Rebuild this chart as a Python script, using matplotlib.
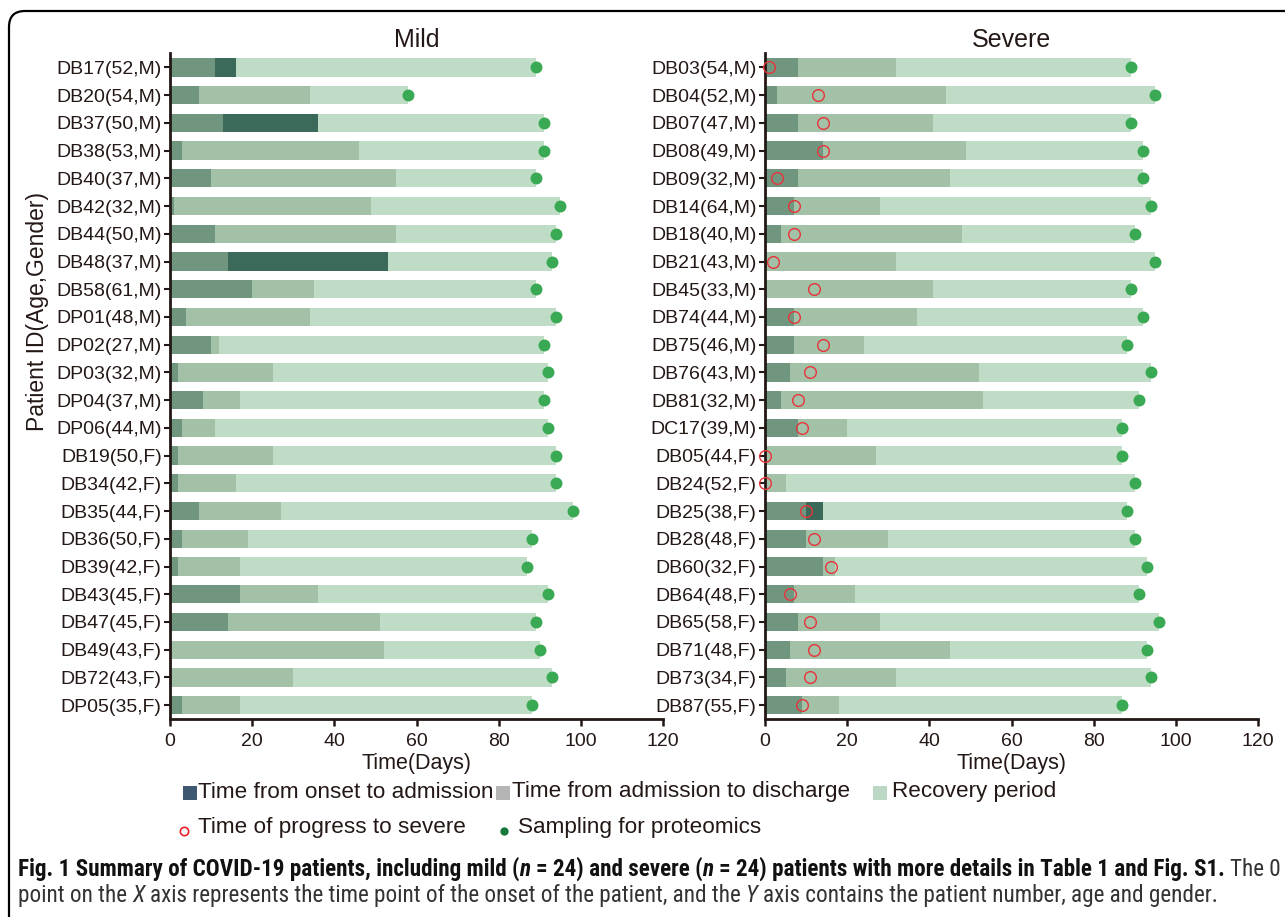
import matplotlib
matplotlib.use("Agg")
import matplotlib.pyplot as plt
from matplotlib.patches import FancyBboxPatch
from matplotlib import font_manager
from matplotlib.font_manager import FontProperties

W, H = 1285, 917

# ---------------- data ----------------
mild_ids = ["DB17(52,M)", "DB20(54,M)", "DB37(50,M)", "DB38(53,M)", "DB40(37,M)", "DB42(32,M)",
            "DB44(50,M)", "DB48(37,M)", "DB58(61,M)", "DP01(48,M)", "DP02(27,M)", "DP03(32,M)",
            "DP04(37,M)", "DP06(44,M)", "DB19(50,F)", "DB34(42,F)", "DB35(44,F)", "DB36(50,F)",
            "DB39(42,F)", "DB43(45,F)", "DB47(45,F)", "DB49(43,F)", "DB72(43,F)", "DP05(35,F)"]
mild_admit = [11, 7, 13, 3, 10, 1, 11, 14, 20, 4, 10, 2, 8, 3, 2, 2, 7, 3, 2, 17, 14, 0, 0, 3]
mild_discharge = [16, 34, 36, 46, 55, 49, 55, 53, 35, 34, 12, 25, 17, 11, 25, 16, 27, 19, 17, 36, 51, 52, 30, 17]
mild_recovery = [89, 58, 91, 91, 89, 95, 94, 93, 89, 94, 91, 92, 91, 92, 94, 94, 98, 88, 87, 92, 89, 90, 93, 88]
mild_sampling = [89, 58, 91, 91, 89, 95, 94, 93, 89, 94, 91, 92, 91, 92, 94, 94, 98, 88, 87, 92, 89, 90, 93, 88]
mild_dark = [1, 0, 1, 0, 0, 0, 0, 1, 0, 0, 0, 0, 0, 0, 0, 0, 0, 0, 0, 0, 0, 0, 0, 0]

severe_ids = ["DB03(54,M)", "DB04(52,M)", "DB07(47,M)", "DB08(49,M)", "DB09(32,M)", "DB14(64,M)",
              "DB18(40,M)", "DB21(43,M)", "DB45(33,M)", "DB74(44,M)", "DB75(46,M)", "DB76(43,M)",
              "DB81(32,M)", "DC17(39,M)", "DB05(44,F)", "DB24(52,F)", "DB25(38,F)", "DB28(48,F)",
              "DB60(32,F)", "DB64(48,F)", "DB65(58,F)", "DB71(48,F)", "DB73(34,F)", "DB87(55,F)"]
severe_admit = [8, 3, 8, 14, 8, 7, 4, 0, 0, 7, 7, 6, 4, 8, 0, 0, 10, 10, 14, 7, 8, 6, 5, 9]
severe_discharge = [32, 44, 41, 49, 45, 28, 48, 32, 41, 37, 24, 52, 53, 20, 27, 5, 14, 30, 17, 22, 28, 45, 32, 18]
severe_recovery = [89, 95, 89, 92, 92, 94, 90, 95, 89, 92, 88, 94, 91, 87, 87, 90, 88, 90, 93, 91, 96, 93, 94, 87]
severe_sampling = [89, 95, 89, 92, 92, 94, 90, 95, 89, 92, 88, 94, 91, 87, 87, 90, 88, 90, 93, 91, 96, 93, 94, 87]
severe_progress = [1, 13, 14, 14, 3, 7, 7, 2, 12, 7, 14, 11, 8, 9, 0, 0, 10, 12, 16, 6, 11, 12, 11, 9]
severe_dark = [0, 0, 0, 0, 0, 0, 0, 0, 0, 0, 0, 0, 0, 0, 0, 0, 1, 0, 0, 0, 0, 0, 0, 0]

x_ticks = [0, 20, 40, 60, 80, 100, 120]
legend_labels = ["Time from onset to admission", "Time from admission to discharge", "Recovery period",
                 "Time of progress to severe", "Sampling for proteomics"]

# ---------------- style ----------------
C_ONSET = "#71967f"
C_DARK = "#3b6a5a"
C_HOSP = "#a2c1a7"
C_REC = "#bfdcc6"
C_DOT = "#3aa953"
C_RED = "#e8333a"
C_AX = "#231815"

plt.rcParams["font.family"] = ["Liberation Sans", "DejaVu Sans"]


def pick(fams):
    for f in fams:
        try:
            font_manager.findfont(FontProperties(family=f), fallback_to_default=False)
            return f
        except Exception:
            pass
    return "DejaVu Sans"


CAP_FONT = pick(["Liberation Sans Narrow", "Roboto Condensed", "Open Sans Condensed", "Liberation Sans"])

fig = plt.figure(figsize=(W / 100, H / 100), dpi=100)

# background overlay axes in pixel coordinates
bg = fig.add_axes([0, 0, 1, 1], zorder=-5)
bg.set_xlim(0, W)
bg.set_ylim(H, 0)
bg.axis("off")
frame = FancyBboxPatch((9, 11), 1320, 925, boxstyle="round,pad=0,rounding_size=16",
                       fill=False, edgecolor="black", linewidth=1.6, clip_on=False)
bg.add_patch(frame)


def px_rect(x0, y0, x1, y1):
    return [x0 / W, 1 - y1 / H, (x1 - x0) / W, (y1 - y0) / H]


def draw_panel(ax, ids, admit, discharge, recovery, sampling, dark, title, progress=None):
    n = len(ids)
    ys = list(range(n))
    hgt = 0.66
    seg2 = [d - a for a, d in zip(admit, discharge)]
    seg3 = [r - d for d, r in zip(discharge, recovery)]
    c2 = [C_DARK if k else C_HOSP for k in dark]
    ax.barh(ys, admit, height=hgt, left=0, color=C_ONSET, linewidth=0, zorder=2)
    ax.barh(ys, seg2, height=hgt, left=admit, color=c2, linewidth=0, zorder=2)
    ax.barh(ys, seg3, height=hgt, left=discharge, color=C_REC, linewidth=0, zorder=2)
    ax.plot(sampling, ys, "o", color=C_DOT, markersize=8.6, markeredgewidth=0, zorder=4, clip_on=False)
    if progress is not None:
        ax.plot(progress, ys, "o", markerfacecolor="none", markeredgecolor=C_RED,
                markersize=8.4, markeredgewidth=1.0, zorder=5, clip_on=False)
    ax.set_ylim(n - 0.5, -0.52)
    ax.set_xlim(0, 120)
    ax.set_yticks(ys)
    ax.set_yticklabels(ids, fontsize=14, color=C_AX)
    ax.set_xticks(x_ticks)
    ax.set_xticklabels([str(t) for t in x_ticks], fontsize=14, color=C_AX)
    for s in ["top", "right"]:
        ax.spines[s].set_visible(False)
    for s in ["left", "bottom"]:
        ax.spines[s].set_color(C_AX)
        ax.spines[s].set_linewidth(2)
    ax.tick_params(axis="y", direction="out", length=4, width=1.5, color=C_AX, pad=2)
    ax.tick_params(axis="x", direction="out", length=5, width=1.8, color=C_AX, pad=5)
    ax.set_xlabel("Time(Days)", fontsize=15.5, color=C_AX, labelpad=2)
    ax.set_title(title, fontsize=18, color=C_AX, pad=4)


ax1 = fig.add_axes(px_rect(170, 53, 663, 719))
ax2 = fig.add_axes(px_rect(765, 53, 1258, 719))
draw_panel(ax1, mild_ids, mild_admit, mild_discharge, mild_recovery, mild_sampling, mild_dark, "Mild")
draw_panel(ax2, severe_ids, severe_admit, severe_discharge, severe_recovery, severe_sampling, severe_dark,
           "Severe", progress=severe_progress)

fig.text(38 / W, 1 - 311 / H, "Patient ID(Age,Gender)", rotation=90, ha="center", va="center",
         fontsize=16.5, color=C_AX)

# ---------------- legend (manual) ----------------
LFS = 16.2
bg.plot([190], [793], "s", color="#3d5870", markersize=9.5, markeredgewidth=0)
bg.text(198, 792, legend_labels[0], fontsize=LFS, va="center", ha="left", color=C_AX)
bg.plot([503], [793], "s", color="#b5b5b5", markersize=9.5, markeredgewidth=0)
bg.text(512, 792, legend_labels[1], fontsize=LFS, va="center", ha="left", color=C_AX)
bg.plot([880], [793], "s", color="#bcd8c4", markersize=9.5, markeredgewidth=0)
bg.text(892, 792, legend_labels[2], fontsize=LFS, va="center", ha="left", color=C_AX)
bg.plot([184], [831], "o", markerfacecolor="none", markeredgecolor="#e8202a", markersize=6,
        markeredgewidth=1.2)
bg.text(198, 828, legend_labels[3], fontsize=LFS, va="center", ha="left", color=C_AX)
bg.plot([504], [831], "o", color="#157a3c", markersize=6, markeredgewidth=0)
bg.text(518, 828, legend_labels[4], fontsize=LFS, va="center", ha="left", color=C_AX)

# ---------------- caption ----------------
renderer = fig.canvas.get_renderer()


def measure(s, size, **kw):
    t = bg.text(0, 0, s, fontsize=size, family=CAP_FONT, **kw)
    w = t.get_window_extent(renderer).width
    t.remove()
    return w


def space_w(size, **kw):
    return measure("a a", size, **kw) - measure("aa", size, **kw)


def line_width(segs, size):
    total = 0
    for s, kw in segs:
        st = s.strip(" ")
        nsp = len(s) - len(s.lstrip(" ")) + len(s) - len(s.rstrip(" "))
        total += measure(st, size, **kw) + nsp * space_w(size, **kw)
    return total


def draw_line(segs, x, y, size):
    for s, kw in segs:
        lead = len(s) - len(s.lstrip(" "))
        trail = len(s) - len(s.rstrip(" "))
        sw = space_w(size, **kw)
        st = s.strip(" ")
        x += lead * sw
        t = bg.text(x, y, st, fontsize=size, family=CAP_FONT, va="baseline", ha="left", **kw)
        x += t.get_window_extent(renderer).width + trail * sw


B = dict(weight="bold", color="#111111")
BI = dict(weight="bold", style="italic", color="#111111")
R = dict(weight="normal", color="#333333")
RI = dict(weight="normal", style="italic", color="#333333")

line1 = [("Fig. 1 Summary of COVID-19 patients, including mild (", B), ("n", BI),
         (" = 24) and severe (", B), ("n", BI),
         (" = 24) patients with more details in Table 1 and Fig. S1.", B), (" The 0", R)]
line2 = [("point on the ", R), ("X", RI),
         (" axis represents the time point of the onset of the patient, and the ", R), ("Y", RI),
         (" axis contains the patient number, age and gender.", R)]

base = 15
wl = line_width(line1, base)
cap_size = base * (1262 / wl)
draw_line(line1, 18, 876, cap_size)
draw_line(line2, 18, 902, cap_size)

fig.savefig("out.png", dpi=100)
